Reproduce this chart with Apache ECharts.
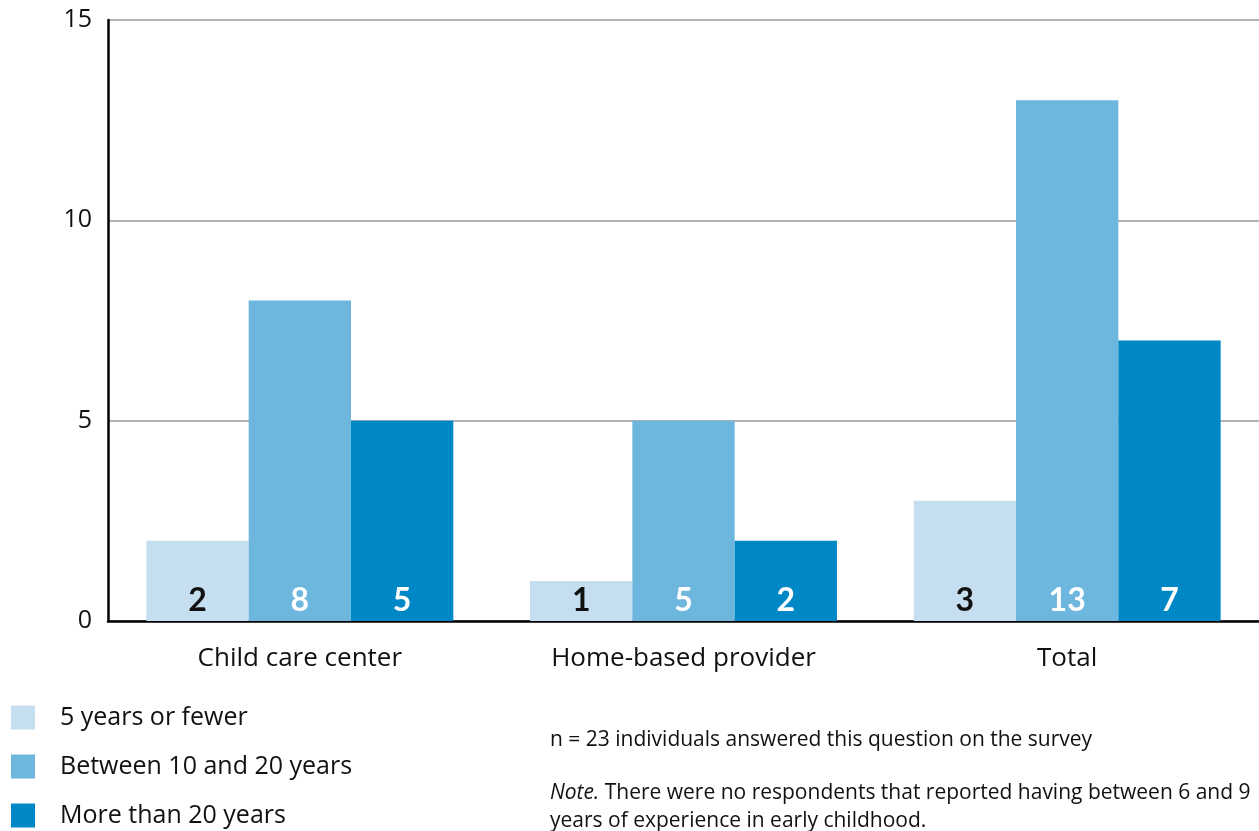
<!DOCTYPE html>
<html>
<head>
<meta charset="utf-8">
<script src="https://cdn.jsdelivr.net/npm/echarts@6/dist/echarts.min.js"></script>
<style>
  html, body { margin: 0; padding: 0; background: #fff; }
  #chart { width: 1259px; height: 831px; }
</style>
</head>
<body>
<div id="chart"></div>
<script>
// Providers and experience groups
const categories = ['Child care center', 'Home-based provider', 'Total'];
const seriesNames = ['5 years or fewer', 'Between 10 and 20 years', 'More than 20 years'];
const fewerThan5 = [2, 1, 3];
const between10and20 = [8, 5, 13];
const moreThan20 = [5, 2, 7];
const yTicks = [0, 5, 10, 15];

const colors = ['#c5dff0', '#6db6dd', '#0088c6'];
const labelColors = ['#111111', '#ffffff', '#ffffff'];
const FONT = '"Open Sans"';
const LABEL_FONT = 'Lato';

const chart = echarts.init(document.getElementById('chart'), null, { renderer: 'canvas' });

function barSeries(name, data, i) {
  return {
    name: name,
    type: 'bar',
    data: data,
    barGap: 0,
    barCategoryGap: '20%',
    itemStyle: { color: colors[i] },
    label: {
      show: true,
      position: 'insideBottom',
      distance: 4,
      fontFamily: LABEL_FONT,
      fontWeight: 'bold',
      fontSize: 32,
      color: labelColors[i]
    },
    emphasis: { disabled: true }
  };
}

chart.setOption({
  animation: false,
  color: colors,
  grid: { left: 108, right: 0, top: 20, bottom: 210, containLabel: false },
  xAxis: {
    type: 'category',
    data: categories,
    axisLine: { lineStyle: { color: '#000', width: 2.5 } },
    axisTick: { show: false },
    axisLabel: { fontFamily: FONT, fontSize: 26, color: '#111', margin: 25 }
  },
  yAxis: {
    type: 'value',
    min: yTicks[0],
    max: yTicks[yTicks.length - 1],
    interval: yTicks[1] - yTicks[0],
    axisLine: { show: true, lineStyle: { color: '#000', width: 2.5 } },
    axisTick: { show: false },
    axisLabel: { fontFamily: FONT, fontSize: 25, color: '#111', margin: 16 },
    splitLine: { lineStyle: { color: '#b3b3b3', width: 2 } }
  },
  legend: {
    orient: 'vertical',
    left: 11,
    top: 705,
    padding: 0,
    itemWidth: 24,
    itemHeight: 24,
    itemGap: 24,
    icon: 'rect',
    selectedMode: false,
    textStyle: { fontFamily: FONT, fontSize: 25, color: '#111', padding: [2, 0, 0, 20] },
    data: seriesNames
  },
  series: [
    barSeries(seriesNames[0], fewerThan5, 0),
    barSeries(seriesNames[1], between10and20, 1),
    barSeries(seriesNames[2], moreThan20, 2)
  ],
  graphic: [
    {
      type: 'text', left: 550, top: 730,
      style: { text: 'n = 23 individuals answered this question on the survey', font: '21px ' + FONT, fill: '#111' }
    },
    {
      type: 'text', left: 550, top: 779,
      style: {
        text: '{i|Note.} There were no respondents that reported having between 6 and 9\nyears of experience in early childhood.',
        font: '21px ' + FONT, fill: '#111', lineHeight: 28,
        rich: { i: { fontStyle: 'italic', fontSize: 21, fontFamily: FONT } }
      }
    }
  ]
});
</script>
</body>
</html>
